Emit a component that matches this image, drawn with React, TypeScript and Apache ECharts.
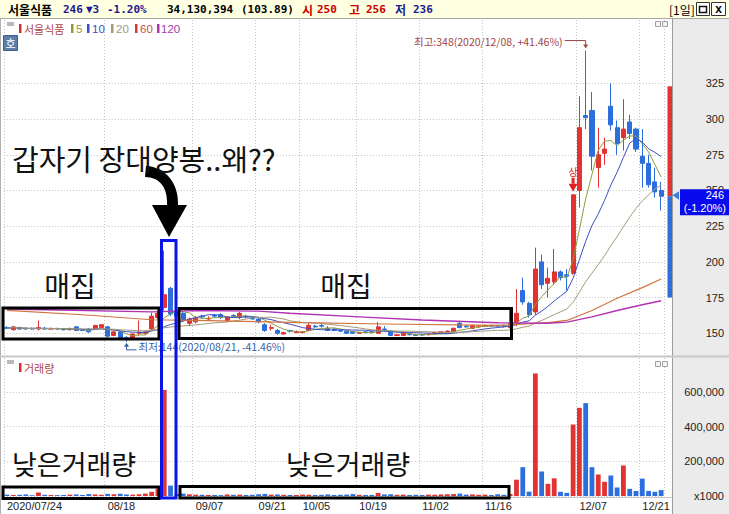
import React, { useEffect, useRef } from 'react';
import * as echarts from 'echarts';

// ---------- big annotation arrow shape ----------
const arrowPathData =
  'M 145 177 C 160 177 168 188 167 205 L 152 205 L 169 237 L 187 205 L 178 205 C 179 184 166 167 146 166 Z';
echarts.graphic.registerShape('bigArrow', echarts.graphic.extendPath(arrowPathData, {}) as any);

// ---------- data ----------
const stockName = '서울식품';
const tradingDays: [string, number[]][] = [
  ['07', [24, 27, 28, 29, 30, 31]],
  ['08', [3, 4, 5, 6, 7, 10, 11, 12, 13, 14, 18, 19, 20, 21, 24, 25, 26, 27, 28, 31]],
  ['09', [1, 2, 3, 4, 7, 8, 9, 10, 11, 14, 15, 16, 17, 18, 21, 22, 23, 24, 25, 28, 29]],
  ['10', [5, 6, 7, 8, 12, 13, 14, 15, 16, 19, 20, 21, 22, 23, 26, 27, 28, 29, 30]],
  ['11', [2, 3, 4, 5, 6, 9, 10, 11, 12, 13, 16, 17, 18, 19, 20, 23, 24, 25, 26, 27, 30]],
  ['12', [1, 2, 3, 4, 7, 8, 9, 10, 11, 14, 15, 16, 17, 18, 21, 22, 23, 24]],
];
const dates: string[] = tradingDays.flatMap(([m, ds]) => ds.map((d) => `${m}/${String(d).padStart(2, '0')}`));
const year = '2020';
const xLabelDates = ['07/24', '08/18', '09/07', '09/21', '10/05', '10/19', '11/02', '11/16', '12/07', '12/21'];

const opens = [
  154, 152.5, 154, 153.5, 153.5, 153, 153.5, 153, 153.2, 153,
  152.5, 154.5, 152.3, 153, 153, 154, 154.5, 148.5, 151, 147,
  146.7, 150, 150, 153, 161, 168, 181.5, 165, 164, 157,
  158, 162, 160, 162.5, 163, 159, 162.5, 161, 162, 161,
  160, 156, 153.5, 152, 149.5, 152, 150.5, 150.5, 152, 155,
  155.5, 153.5, 153, 152, 151.5, 151, 150, 151, 151, 150,
  153, 151.5, 148.5, 148.5, 149.5, 149, 149, 149, 150, 150.5,
  150, 151, 157, 155, 153.5, 154.5, 155, 155.5, 155.5, 155.5,
  154, 157, 180, 171, 165, 200, 185, 186, 193, 191,
  192, 250, 302.5, 306, 266, 276, 309, 294, 287, 298,
  293, 274, 269, 256, 250,
];
const closes = [
  153.5, 154.5, 153, 153, 153, 154, 153, 153.2, 153, 152.5,
  152.8, 152, 152, 151, 155.5, 156, 148, 151, 146.5, 146.5,
  149.5, 150.8, 151, 162, 164, 177, 163.5, 162, 159, 160,
  160.5, 161.5, 160.5, 162, 161, 161.5, 162, 164, 161.5, 160,
  158, 152, 154, 150, 150.5, 151.5, 151, 151, 155.5, 154.5,
  155, 152, 152, 151.5, 150, 150, 150.5, 150.5, 150.8, 154.5,
  152.5, 148.5, 149, 150, 149, 148.5, 148.8, 149.5, 150.5, 151,
  151.5, 153.5, 154, 154.5, 155.5, 155, 155.5, 155, 155, 155,
  157, 164, 172, 163, 195, 184, 188.5, 193, 189, 190,
  247, 294, 301, 274, 275, 279, 296, 283, 293, 290,
  279, 269, 254, 249, 246,
];
const lows = [
  153, 152, 152.5, 152.5, 152.5, 152, 152.5, 152.5, 152.5, 152,
  152, 151.5, 151.5, 150.5, 152.5, 153.5, 147, 148, 146, 144,
  146, 148, 149, 152, 160, 166, 162, 160, 158, 155,
  157, 160, 159, 161, 160, 158, 161, 160, 160.5, 159.5,
  157, 151, 152, 149, 149, 150.5, 150, 150, 151.5, 153.5,
  154, 151.5, 151.5, 151, 149.5, 149.5, 149.5, 150, 150, 149.5,
  151, 148, 148, 148, 148.5, 148, 148.3, 148.5, 149.5, 150,
  149.5, 150.5, 153.5, 154, 153, 154, 154.5, 154.5, 154.5, 154,
  153.5, 155, 170, 161, 163, 181, 175, 184, 187, 180,
  191, 238, 293, 264, 252, 268, 292, 275, 278, 286,
  277, 252, 252, 245, 236,
];
const highs = [
  155, 155, 154.5, 154, 154, 159, 154.5, 154, 154, 153.5,
  154, 155, 153, 153.5, 156, 156.5, 155, 151.5, 151.5, 148,
  150, 159, 152, 164.5, 166, 208, 182.5, 167, 165, 161,
  162, 163, 162, 163.5, 164, 162, 163.5, 165, 163, 162,
  161, 157, 156, 153, 151, 152.5, 152, 151.5, 157, 156,
  156.5, 155, 153.5, 153, 152, 151.5, 151, 151.5, 151.5, 158,
  155, 152, 149.5, 150.5, 150, 149.5, 149.5, 150, 151, 151.5,
  152, 154, 158, 155.5, 156, 155.5, 156, 156, 156, 156,
  167, 181, 189, 172, 210, 205, 196, 209, 194, 195,
  247, 316, 348, 319, 294, 287, 325, 299, 314, 303,
  294, 293, 275, 266, 256,
];
// volume, in thousands of shares (axis shows x1000)
const volumes = [
  8000, 6000, 7000, 9000, 5000, 20000, 7000, 6000, 5000, 6000,
  8000, 9000, 6000, 11000, 9000, 7000, 12000, 10000, 13000, 9000,
  8000, 10000, 14000, 24000, 43000, 611000, 60000, 12000, 14000, 10000,
  8000, 7000, 6000, 6000, 5000, 9000, 7000, 8000, 6000, 7000,
  10000, 12000, 8000, 9000, 7000, 6000, 6000, 8000, 7000, 6000,
  7000, 9000, 6000, 7000, 8000, 11000, 7000, 6000, 6000, 18000,
  9000, 10000, 7000, 8000, 6000, 7000, 6000, 8000, 7000, 9000,
  10000, 11000, 14000, 8000, 9000, 7000, 8000, 6000, 10000, 7000,
  12000, 94000, 166000, 25000, 706000, 141000, 70000, 102000, 24000, 18000,
  412000, 508000, 535000, 166000, 124000, 82000, 118000, 49000, 176000, 41000,
  29000, 100000, 29000, 24000, 34130,
];
// long moving averages (index, value)
const ma60Points: [number, number][] = [
  [0, 166], [12, 163], [23, 159.5], [30, 159], [47, 157.5], [60, 156.5], [78, 155.5],
  [86, 157.5], [89, 159], [93, 166], [97, 174.5], [101, 182], [104, 188],
];
const ma120Points: [number, number][] = [
  [0, 167], [23, 165], [30, 166], [40, 165.5], [45, 164], [56, 161.5], [66, 159.3],
  [78, 157.4], [86, 157], [89, 157.8], [93, 161.5], [97, 166], [101, 170], [104, 172.8],
];
const priceTicks = [150, 175, 200, 225, 250, 275, 300, 325];
const volumeTicks = [0, 200000, 400000, 600000];
const prevClose = 249;
const limitUp = 323;
const limitDown = 175;
const headerVolume = '34,130,394';
const headerRatio = '(103.89)';
const limitUpIdx = 90;

// ---------- styles ----------
const UP = '#E23232';
const DOWN = '#2B6EDC';
const KR = '"Noto Sans CJK KR", sans-serif';
const LAT = '"Liberation Sans", Arial, sans-serif';
const MONO = '"DejaVu Sans Mono", monospace';
const GRID_LINE = { color: '#C4C4C4', type: [1, 2] as any, width: 1 };
const maColors = { ma5: '#8E9C3E', ma10: '#3E4FC4', ma20: '#A39B78', ma60: '#D0743E', ma120: '#B232B4' };

function movingAverage(n: number) {
  return closes.map((_, i) => {
    const w = closes.slice(Math.max(0, i - n + 1), i + 1);
    return +(w.reduce((a, b) => a + b, 0) / w.length).toFixed(2);
  });
}

const labelIdx = new Set(xLabelDates.map((d) => dates.indexOf(d)));

function txt(text: string, x: number, y: number, o: any = {}) {
  return {
    type: 'text',
    x,
    y,
    z: o.z ?? 50,
    silent: true,
    style: {
      text,
      fill: o.fill ?? '#000',
      fontSize: o.size ?? 12,
      fontFamily: o.family ?? KR,
      fontWeight: o.weight ?? 'normal',
      align: o.align ?? 'left',
      verticalAlign: o.va ?? 'middle',
    },
  };
}
function rectEl(x: number, y: number, w: number, h: number, style: any, z = 50) {
  return { type: 'rect', z, silent: true, shape: { x, y, width: w, height: h }, style };
}

export default function App() {
  const ref = useRef<HTMLDivElement>(null);
  useEffect(() => {
    const chart = echarts.init(ref.current!, null, { renderer: 'svg' });
    const last = closes.length - 1;

    const option: any = {
      animation: false,
      backgroundColor: '#FFFFFF',
      textStyle: { fontFamily: LAT },
      grid: [
        { left: 3.85, right: 64.7, top: 20, bottom: 158 },
        { left: 3.85, right: 64.7, top: 358, bottom: 18 },
      ],
      xAxis: [
        {
          type: 'category', gridIndex: 0, data: dates, boundaryGap: true,
          axisLine: { show: false }, axisTick: { show: false }, axisLabel: { show: false },
          splitLine: { show: true, interval: (i: number) => labelIdx.has(i), lineStyle: GRID_LINE },
        },
        {
          type: 'category', gridIndex: 1, data: dates, boundaryGap: true,
          axisLine: { show: false }, axisTick: { show: false },
          axisLabel: {
            show: true, interval: (i: number) => labelIdx.has(i), align: 'left', margin: 4,
            color: '#222', fontSize: 11, fontFamily: LAT,
            formatter: (v: string, i: number) => (i === 0 ? `${year}/${v}` : v),
          },
          splitLine: { show: true, interval: (i: number) => labelIdx.has(i), lineStyle: GRID_LINE },
        },
      ],
      yAxis: [
        {
          type: 'value', gridIndex: 0, position: 'right', offset: 7.7, min: 134.1, max: 369.4,
          axisLine: { show: false },
          axisTick: { show: false, customValues: priceTicks },
          axisLabel: { customValues: priceTicks, margin: 52, align: 'right', color: '#222', fontSize: 11, fontFamily: LAT },
          splitLine: { show: true, lineStyle: GRID_LINE },
        },
        {
          type: 'value', gridIndex: 1, position: 'right', offset: 7.7, min: 0, max: 795000,
          axisLine: { show: false },
          axisTick: { show: false, customValues: volumeTicks },
          axisLabel: {
            customValues: volumeTicks, margin: 52, align: 'right', color: '#222', fontSize: 11, fontFamily: LAT,
            formatter: (v: number) => (v === 0 ? 'x1000' : v.toLocaleString('en-US')),
          },
          splitLine: { show: true, lineStyle: GRID_LINE },
        },
      ],
      series: [
        {
          name: stockName, type: 'candlestick', xAxisIndex: 0, yAxisIndex: 0, barWidth: 4.6,
          data: dates.map((_, i) => [opens[i], closes[i], lows[i], highs[i]]),
          itemStyle: { color: UP, color0: DOWN, borderColor: UP, borderColor0: DOWN, borderWidth: 1 },
        },
        ...([
          ['5', movingAverage(5), maColors.ma5],
          ['10', movingAverage(10), maColors.ma10],
          ['20', movingAverage(20), maColors.ma20],
        ] as [string, number[], string][]).map(([n, d, c]) => ({
          name: n, type: 'line', xAxisIndex: 0, yAxisIndex: 0, data: d, symbol: 'none',
          lineStyle: { color: c, width: 1 }, z: 3,
        })),
        {
          name: '60', type: 'line', xAxisIndex: 0, yAxisIndex: 0, data: ma60Points, symbol: 'none',
          lineStyle: { color: maColors.ma60, width: 1.2 }, z: 3,
        },
        {
          name: '120', type: 'line', xAxisIndex: 0, yAxisIndex: 0, data: ma120Points, symbol: 'none',
          lineStyle: { color: maColors.ma120, width: 1.4 }, z: 3,
        },
        {
          name: '거래량', type: 'bar', xAxisIndex: 1, yAxisIndex: 1, barWidth: 4.8,
          data: volumes.map((v, i) => ({ value: v, itemStyle: { color: closes[i] >= opens[i] ? UP : DOWN } })),
        },
      ],
    };
    chart.setOption(option);

    const gp = (i: number, v: number) => chart.convertToPixel({ gridIndex: 0 } as any, [dates[i], v]) as number[];
    const hi = highs.indexOf(Math.max(...highs));
    const lo = lows.indexOf(Math.min(...lows));
    const cur = closes[last];
    const [hx, hy] = gp(hi, highs[hi]);
    const [lx, ly] = gp(lo, lows[lo]);
    const [, cy] = gp(last, cur);
    const [, upY] = gp(last, limitUp);
    const [, dnY] = gp(last, limitDown);
    const [sx, sy] = gp(limitUpIdx, highs[limitUpIdx]);
    const pct = (a: number) => ((a / cur - 1) * 100).toFixed(2);
    const chg = cur - prevClose;
    const chgPct = ((chg / prevClose) * 100).toFixed(2);
    const navy = '#1B1B8F';
    const red = '#C80000';

    const graphics: any[] = [
      // backgrounds
      rectEl(672, 18, 57, 496, { fill: '#EBEBEB' }, -10),
      rectEl(0, 0, 729, 18, { fill: '#FFFFE1' }, -10),
      { type: 'line', z: 5, silent: true, shape: { x1: 0, y1: 18.5, x2: 729, y2: 18.5 }, style: { stroke: '#A8A8A8', lineWidth: 1 } },
      { type: 'line', z: 5, silent: true, shape: { x1: 672.5, y1: 18, x2: 672.5, y2: 514 }, style: { stroke: '#9A9A9A', lineWidth: 1 } },
      { type: 'line', z: 5, silent: true, shape: { x1: 0.5, y1: 18, x2: 0.5, y2: 514 }, style: { stroke: '#B0B0B0', lineWidth: 1 } },
      rectEl(0, 355.5, 729, 2, { fill: '#C8C8C8' }, 5),
      { type: 'line', z: 5, silent: true, shape: { x1: 0, y1: 497.5, x2: 672, y2: 497.5 }, style: { stroke: '#C8C8C8', lineWidth: 1 } },
      // header
      txt(stockName, 8, 9, { weight: 'bold', size: 12 }),
      txt(String(cur), 63, 9, { weight: 'bold', size: 11, family: MONO, fill: navy }),
      txt(`▼${Math.abs(chg)}`, 86, 9, { weight: 'bold', size: 11, family: MONO, fill: navy }),
      txt(`${chgPct}%`, 107, 9, { weight: 'bold', size: 11, family: MONO, fill: navy }),
      txt(headerVolume, 167, 9, { weight: 'bold', size: 11, family: MONO }),
      txt(headerRatio, 241, 9, { weight: 'bold', size: 11, family: MONO }),
      txt('시', 302, 9, { weight: 'bold', size: 12, fill: red }),
      txt(String(opens[last]), 317, 9, { weight: 'bold', size: 11, family: MONO, fill: red }),
      txt('고', 349, 9, { weight: 'bold', size: 12, fill: red }),
      txt(String(highs[last]), 366, 9, { weight: 'bold', size: 11, family: MONO, fill: red }),
      txt('저', 395, 9, { weight: 'bold', size: 12, fill: navy }),
      txt(String(lows[last]), 413, 9, { weight: 'bold', size: 11, family: MONO, fill: navy }),
      txt('[1일]', 669, 9, { size: 12 }),
      rectEl(696.5, 2.5, 13, 13, { fill: '#FFFFFF', stroke: '#333', lineWidth: 1 }),
      rectEl(699.5, 6.5, 7, 6, { fill: 'none', stroke: '#111', lineWidth: 1.5 }),
      rectEl(711.5, 2.5, 14, 13, { fill: '#FFFFFF', stroke: '#333', lineWidth: 1 }),
      txt('x', 718.5, 9, { size: 12, family: LAT, weight: 'bold', align: 'center' }),
      // legend row
      rectEl(7, 22, 7, 4, { fill: '#B8B8B8' }),
      rectEl(19, 24, 2.5, 9, { fill: '#D03030' }),
      txt(stockName, 24, 29, { size: 11, fill: '#B04848' }),
      rectEl(71, 24, 2.5, 9, { fill: maColors.ma5 }),
      txt('5', 76, 29, { size: 11.5, family: LAT, fill: maColors.ma5 }),
      rectEl(87, 24, 2.5, 9, { fill: maColors.ma10 }),
      txt('10', 92, 29, { size: 11.5, family: LAT, fill: maColors.ma10 }),
      rectEl(111, 24, 2.5, 9, { fill: maColors.ma20 }),
      txt('20', 116, 29, { size: 11.5, family: LAT, fill: '#9C9C84' }),
      rectEl(135, 24, 2.5, 9, { fill: '#D03A3A' }),
      txt('60', 140, 29, { size: 11.5, family: LAT, fill: '#C85050' }),
      rectEl(157, 24, 2.5, 9, { fill: maColors.ma120 }),
      txt('120', 161, 29, { size: 11.5, family: LAT, fill: '#A040A8' }),
      rectEl(3.5, 35.5, 14, 15, { fill: '#5B7FA8', stroke: '#3D5F88', lineWidth: 1 }),
      txt('호', 10.5, 43, { size: 11, fill: '#FFFFFF', align: 'center' }),
      rectEl(655.5, 21.5, 5, 5, { fill: '#F4F4F4', stroke: '#A0A0A0', lineWidth: 1 }),
      rectEl(662.5, 21.5, 5, 5, { fill: '#F4F4F4', stroke: '#A0A0A0', lineWidth: 1 }),
      // volume pane title
      rectEl(7, 360, 7, 4, { fill: '#B8B8B8' }),
      rectEl(19, 363, 2.5, 9, { fill: '#D03030' }),
      txt('거래량', 24, 368, { size: 11, fill: '#B04848' }),
      rectEl(655.5, 361.5, 5, 5, { fill: '#F4F4F4', stroke: '#A0A0A0', lineWidth: 1 }),
      rectEl(662.5, 361.5, 5, 5, { fill: '#F4F4F4', stroke: '#A0A0A0', lineWidth: 1 }),
      // high label
      txt(`최고:${highs[hi]}(${year}/${dates[hi]}, +${pct(highs[hi])}%)`, hx - 23, hy - 9, { size: 10.5, fill: '#A04444', align: 'right' }),
      { type: 'polyline', z: 50, silent: true, shape: { points: [[hx - 21, hy - 10], [hx, hy - 10], [hx, hy - 4]] }, style: { stroke: '#A04444', lineWidth: 1, fill: 'none' } },
      { type: 'polygon', z: 50, silent: true, shape: { points: [[hx - 2.5, hy - 6], [hx + 2.5, hy - 6], [hx, hy - 2]] }, style: { fill: '#A04444' } },
      // low label
      txt(`최저:${lows[lo]}(${year}/${dates[lo]}, ${pct(lows[lo])}%)`, lx + 12, ly + 5, { size: 10.5, fill: '#3A5FA8' }),
      { type: 'polyline', z: 50, silent: true, shape: { points: [[lx, ly + 2], [lx, ly + 8], [lx + 10, ly + 8]] }, style: { stroke: '#3A5FA8', lineWidth: 1, fill: 'none' } },
      { type: 'polygon', z: 50, silent: true, shape: { points: [[lx - 2.5, ly + 5], [lx + 2.5, ly + 5], [lx, ly + 1]] }, style: { fill: '#3A5FA8' } },
      // limit-up marker
      rectEl(sx - 1.5, sy - 17, 3, 6, { fill: '#E02020' }, 40),
      { type: 'polygon', z: 40, silent: true, shape: { points: [[sx - 4.5, sy - 11], [sx + 4.5, sy - 11], [sx, sy - 3]] }, style: { fill: '#E02020' } },
      txt('상', sx, sy - 23, { size: 10, fill: '#E02020', align: 'center' }),
      // limit range bar at right edge
      rectEl(667.5, upY, 4.5, cy - upY, { fill: UP }, 30),
      rectEl(667.5, cy, 4.5, dnY - cy, { fill: DOWN }, 30),
      // current price marker
      { type: 'polygon', z: 60, silent: true, shape: { points: [[672.5, cy - 1], [679, cy - 5], [679, cy + 3.5]] }, style: { fill: '#3C7BE0' } },
      rectEl(680, cy - 7, 49, 26, { fill: '#0A0AEE' }, 60),
      txt(String(cur), 724, cy - 1.5, { size: 11, family: LAT, fill: '#FFFFFF', align: 'right', z: 61 }),
      txt(`(${chgPct}%)`, 726, cy + 12, { size: 11, family: LAT, fill: '#FFFFFF', align: 'right', z: 61 }),
      // annotation boxes
      rectEl(3, 308, 156, 31, { fill: 'none', stroke: '#000', lineWidth: 3 }, 100),
      rectEl(179, 308.5, 332.5, 30, { fill: 'none', stroke: '#000', lineWidth: 3 }, 100),
      rectEl(3, 487, 156, 11.5, { fill: 'none', stroke: '#000', lineWidth: 3 }, 100),
      rectEl(180, 486.5, 329, 11.5, { fill: 'none', stroke: '#000', lineWidth: 3 }, 100),
      rectEl(161.5, 240.5, 14.5, 257.5, { fill: 'none', stroke: '#0A14E6', lineWidth: 3 }, 101),
      { type: 'bigArrow', x: 0, y: 0, z: 100, silent: true, style: { fill: '#000' } },
      txt('갑자기 장대양봉..왜??', 12, 158, { size: 29, fill: '#111', z: 100 }),
      txt('매집', 70, 285, { size: 28, fill: '#111', align: 'center', z: 100 }),
      txt('매집', 346, 285, { size: 28, fill: '#111', align: 'center', z: 100 }),
      txt('낮은거래량', 12, 463, { size: 27, fill: '#111', z: 100 }),
      txt('낮은거래량', 286, 463, { size: 27, fill: '#111', z: 100 }),
    ];
    chart.setOption({ graphic: graphics });
    return () => chart.dispose();
  }, []);
  return <div ref={ref} style={{ position: 'fixed', left: 0, top: 0, width: 729, height: 514 }} />;
}
